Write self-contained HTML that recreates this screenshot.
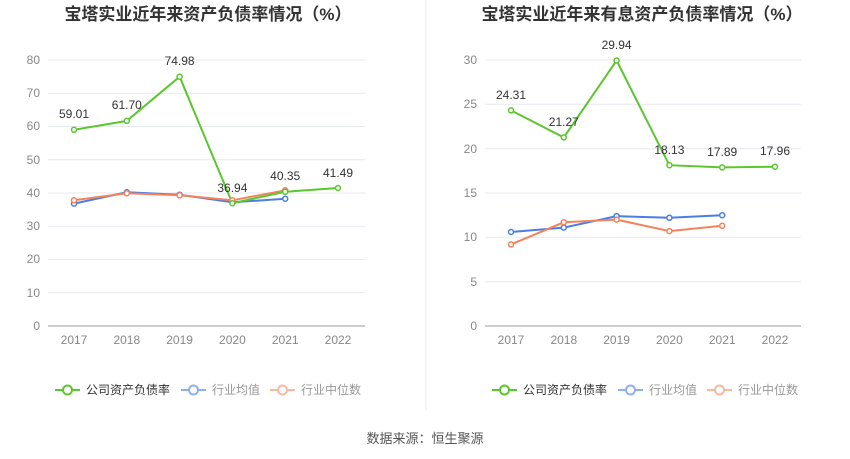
<!DOCTYPE html><html><head><meta charset="utf-8"><style>body{margin:0;background:#fff}svg{display:block;font-family:"Liberation Sans","Noto Sans CJK SC",sans-serif}</style></head><body>
<svg width="850" height="459" xmlns="http://www.w3.org/2000/svg">
<line x1="426" y1="0" x2="426" y2="410" stroke="#eee"/>
<text x="208" y="20" font-size="17" font-weight="bold" fill="#333" text-anchor="middle">宝塔实业近年来资产负债率情况（%）</text>
<text x="642" y="20" font-size="17" font-weight="bold" fill="#333" text-anchor="middle">宝塔实业近年来有息资产负债率情况（%）</text>
<g stroke="#e6e9f0">
<line x1="48" x2="365" y1="60" y2="60"/><line x1="48" x2="365" y1="93.25" y2="93.25"/><line x1="48" x2="365" y1="126.5" y2="126.5"/><line x1="48" x2="365" y1="159.75" y2="159.75"/><line x1="48" x2="365" y1="193" y2="193"/><line x1="48" x2="365" y1="226.25" y2="226.25"/><line x1="48" x2="365" y1="259.5" y2="259.5"/><line x1="48" x2="365" y1="292.75" y2="292.75"/>
<line x1="485" x2="801" y1="60" y2="60"/><line x1="485" x2="801" y1="104.3" y2="104.3"/><line x1="485" x2="801" y1="148.7" y2="148.7"/><line x1="485" x2="801" y1="193" y2="193"/><line x1="485" x2="801" y1="237.3" y2="237.3"/><line x1="485" x2="801" y1="281.7" y2="281.7"/>
</g>
<line x1="48" x2="365" y1="326" y2="326" stroke="#999"/><line x1="485" x2="801" y1="326" y2="326" stroke="#999"/>
<g font-size="12" fill="#888" text-anchor="end">
<text x="40" y="64">80</text><text x="40" y="97">70</text><text x="40" y="130">60</text><text x="40" y="164">50</text><text x="40" y="197">40</text><text x="40" y="230">30</text><text x="40" y="263">20</text><text x="40" y="297">10</text><text x="40" y="330">0</text>
<text x="477" y="64">30</text><text x="477" y="108">25</text><text x="477" y="153">20</text><text x="477" y="197">15</text><text x="477" y="241">10</text><text x="477" y="286">5</text><text x="477" y="330">0</text>
</g>
<g font-size="12" fill="#888" text-anchor="middle">
<text x="74" y="344">2017</text><text x="126.8" y="344">2018</text><text x="179.6" y="344">2019</text><text x="232.4" y="344">2020</text><text x="285.2" y="344">2021</text><text x="338" y="344">2022</text>
<text x="511" y="344">2017</text><text x="563.8" y="344">2018</text><text x="616.6" y="344">2019</text><text x="669.4" y="344">2020</text><text x="722.2" y="344">2021</text><text x="775" y="344">2022</text>
</g>
<g fill="#fff" stroke-width="2">
<polyline stroke="#4a7ee6" fill="none" points="74,203.6 126.8,192.3 179.6,194.7 232.4,202.3 285.2,198.7"/>
<polyline stroke="#f4825c" fill="none" points="74,200.3 126.8,193.3 179.6,195.3 232.4,200.3 285.2,190.3"/>
<polyline stroke="#5ac72e" fill="none" points="74,129.8 126.8,120.9 179.6,76.7 232.4,203.2 285.2,191.8 338,188"/>
<polyline stroke="#4a7ee6" fill="none" points="511,232 563.8,227.6 616.6,216.1 669.4,217.8 722.2,215.2"/>
<polyline stroke="#f4825c" fill="none" points="511,244.4 563.8,222.3 616.6,219.6 669.4,231.1 722.2,225.8"/>
<polyline stroke="#5ac72e" fill="none" points="511,110.4 563.8,137.4 616.6,60.5 669.4,165.2 722.2,167.4 775,166.7"/>
<g stroke="#4a7ee6" stroke-width="1.5"><circle cx="74" cy="203.6" r="2.5"/><circle cx="126.8" cy="192.3" r="2.5"/><circle cx="179.6" cy="194.7" r="2.5"/><circle cx="232.4" cy="202.3" r="2.5"/><circle cx="285.2" cy="198.7" r="2.5"/><circle cx="511" cy="232" r="2.5"/><circle cx="563.8" cy="227.6" r="2.5"/><circle cx="616.6" cy="216.1" r="2.5"/><circle cx="669.4" cy="217.8" r="2.5"/><circle cx="722.2" cy="215.2" r="2.5"/></g>
<g stroke="#f4825c" stroke-width="1.5"><circle cx="74" cy="200.3" r="2.5"/><circle cx="126.8" cy="193.3" r="2.5"/><circle cx="179.6" cy="195.3" r="2.5"/><circle cx="232.4" cy="200.3" r="2.5"/><circle cx="285.2" cy="190.3" r="2.5"/><circle cx="511" cy="244.4" r="2.5"/><circle cx="563.8" cy="222.3" r="2.5"/><circle cx="616.6" cy="219.6" r="2.5"/><circle cx="669.4" cy="231.1" r="2.5"/><circle cx="722.2" cy="225.8" r="2.5"/></g>
<g stroke="#5ac72e" stroke-width="1.5"><circle cx="74" cy="129.8" r="2.5"/><circle cx="126.8" cy="120.9" r="2.5"/><circle cx="179.6" cy="76.7" r="2.5"/><circle cx="232.4" cy="203.2" r="2.5"/><circle cx="285.2" cy="191.8" r="2.5"/><circle cx="338" cy="188" r="2.5"/><circle cx="511" cy="110.4" r="2.5"/><circle cx="563.8" cy="137.4" r="2.5"/><circle cx="616.6" cy="60.5" r="2.5"/><circle cx="669.4" cy="165.2" r="2.5"/><circle cx="722.2" cy="167.4" r="2.5"/><circle cx="775" cy="166.7" r="2.5"/></g>
</g>
<g font-size="12" fill="#333" text-anchor="middle">
<text x="74" y="118">59.01</text><text x="126.8" y="109">61.70</text><text x="179.6" y="65">74.98</text><text x="232.4" y="192">36.94</text><text x="285.2" y="180">40.35</text><text x="338" y="177">41.49</text>
<text x="511" y="99">24.31</text><text x="563.8" y="126">21.27</text><text x="616.6" y="49">29.94</text><text x="669.4" y="154">18.13</text><text x="722.2" y="156">17.89</text><text x="775" y="155">17.96</text>
</g>
<g font-size="12" fill="#333" stroke-width="2">
<line x1="55" x2="80" y1="390" y2="390" stroke="#5ac72e"/><circle cx="67.5" cy="390" r="4.5" fill="#fff" stroke="#5ac72e"/><text x="86" y="394">公司资产负债率</text>
<line x1="181" x2="206" y1="390" y2="390" stroke="#8fb0f0"/><circle cx="193.5" cy="390" r="4.5" fill="#fff" stroke="#8fb0f0"/><text x="212" y="394" fill="#999">行业均值</text>
<line x1="270" x2="295" y1="390" y2="390" stroke="#f8b9a2"/><circle cx="282.5" cy="390" r="4.5" fill="#fff" stroke="#f8b9a2"/><text x="301" y="394" fill="#999">行业中位数</text>
<line x1="492" x2="517" y1="390" y2="390" stroke="#5ac72e"/><circle cx="504.5" cy="390" r="4.5" fill="#fff" stroke="#5ac72e"/><text x="523" y="394">公司资产负债率</text>
<line x1="618" x2="643" y1="390" y2="390" stroke="#8fb0f0"/><circle cx="630.5" cy="390" r="4.5" fill="#fff" stroke="#8fb0f0"/><text x="649" y="394" fill="#999">行业均值</text>
<line x1="707" x2="732" y1="390" y2="390" stroke="#f8b9a2"/><circle cx="719.5" cy="390" r="4.5" fill="#fff" stroke="#f8b9a2"/><text x="738" y="394" fill="#999">行业中位数</text>
</g>
<text x="425" y="443" font-size="13" fill="#555" text-anchor="middle">数据来源：恒生聚源</text>
</svg></body></html>
